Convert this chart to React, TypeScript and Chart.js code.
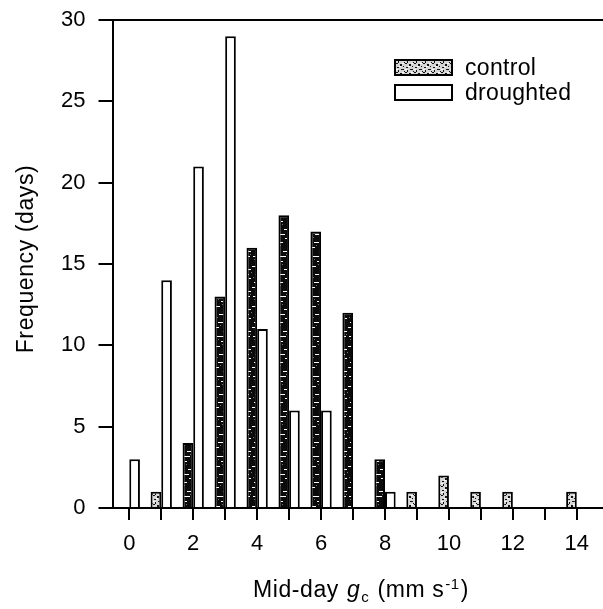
import { useEffect, useRef } from 'react';
import { Chart, registerables } from 'chart.js';

Chart.register(...registerables);

// ---- data ----
const categories = [0, 1, 2, 3, 4, 5, 6, 7, 8, 9, 10, 11, 12, 13, 14];
const controlValues = [0, 1, 4, 13, 16, 18, 17, 12, 3, 1, 2, 1, 1, 0, 1];
const droughtedValues = [3, 14, 21, 29, 11, 6, 6, 0, 1, 0, 0, 0, 0, 0, 0];
const seriesNames = ['control', 'droughted'];
const xTickLabels = ['0', '2', '4', '6', '8', '10', '12', '14'];
const yAxisTitle = 'Frequency (days)';

const FONT = 'Arial, "Liberation Sans", Helvetica, sans-serif';

function makeDarkPattern(ctx: CanvasRenderingContext2D) {
  const c = document.createElement('canvas');
  c.width = 12;
  c.height = 40;
  const g = c.getContext('2d')!;
  g.fillStyle = '#0b0b0b';
  g.fillRect(0, 0, 12, 40);
  g.fillStyle = '#ffffff';
  const dashes = [
    [2, 2, 5, 1], [0, 7, 3, 1], [7, 11, 4, 1], [1, 16, 9, 1], [5, 21, 2, 1],
    [0, 26, 4, 1], [8, 29, 3, 1], [3, 34, 6, 1], [9, 38, 2, 1],
  ];
  dashes.forEach(([x, y, w, h]) => g.fillRect(x, y, w, h));
  g.fillStyle = '#777';
  [[4, 5], [10, 14], [2, 19], [6, 24], [11, 32], [1, 37]].forEach(([x, y]) => g.fillRect(x, y, 1, 1));
  return ctx.createPattern(c, 'repeat')!;
}

function makeLightPattern(ctx: CanvasRenderingContext2D) {
  const c = document.createElement('canvas');
  c.width = 9;
  c.height = 9;
  const g = c.getContext('2d')!;
  g.fillStyle = '#d6d6d6';
  g.fillRect(0, 0, 9, 9);
  g.fillStyle = '#111';
  [[0, 0, 2, 1], [4, 1, 2, 2], [7, 3, 1, 1], [1, 4, 2, 1], [5, 6, 3, 1], [2, 7, 1, 2], [8, 8, 1, 1]].forEach(
    ([x, y, w, h]) => g.fillRect(x, y, w, h)
  );
  g.fillStyle = '#fff';
  [[3, 3, 2, 1], [6, 0, 2, 1], [0, 6, 2, 1]].forEach(([x, y, w, h]) => g.fillRect(x, y, w, h));
  return ctx.createPattern(c, 'repeat')!;
}

export default function App() {
  const ref = useRef<HTMLCanvasElement | null>(null);

  useEffect(() => {
    const canvas = ref.current!;
    const ctx0 = canvas.getContext('2d')!;
    const dark = makeDarkPattern(ctx0);
    const light = makeLightPattern(ctx0);

    const decor = {
      id: 'decor',
      afterDraw(chart: any) {
        const { ctx, chartArea } = chart;
        ctx.save();
        // top frame line
        ctx.strokeStyle = '#000';
        ctx.lineWidth = 2;
        ctx.beginPath();
        ctx.moveTo(chartArea.left, chartArea.top);
        ctx.lineTo(chartArea.right, chartArea.top);
        ctx.stroke();

        // legend
        const lx = 395, bw = 57, bh = 15;
        const rows = [
          { y: 60, fill: light, label: seriesNames[0] },
          { y: 85, fill: '#fff', label: seriesNames[1] },
        ];
        ctx.font = `23px ${FONT}`;
        (ctx as any).letterSpacing = '0.3px';
        ctx.textBaseline = 'middle';
        ctx.textAlign = 'left';
        rows.forEach((r) => {
          ctx.fillStyle = r.fill as any;
          ctx.fillRect(lx, r.y, bw, bh);
          ctx.lineWidth = 2;
          ctx.strokeStyle = '#000';
          ctx.strokeRect(lx, r.y, bw, bh);
          ctx.fillStyle = '#000';
          ctx.fillText(r.label, 465, r.y + bh / 2 + 1);
        });

        // x title with italic g, subscript c, superscript -1
        const segs = [
          { t: 'Mid-day ', f: `23px ${FONT}`, dy: 0 },
          { t: 'g', f: `italic 23px ${FONT}`, dy: 0 },
          { t: 'c', f: `15px ${FONT}`, dy: 5 },
          { t: ' (mm s', f: `23px ${FONT}`, dy: 0 },
          { t: '-1', f: `15px ${FONT}`, dy: -8 },
          { t: ')', f: `23px ${FONT}`, dy: 0 },
        ];
        (ctx as any).letterSpacing = '0.6px';
        let total = 0;
        segs.forEach((s) => {
          ctx.font = s.f;
          total += ctx.measureText(s.t).width + 1;
        });
        let x = 361.5 - total / 2;
        ctx.textBaseline = 'alphabetic';
        segs.forEach((s) => {
          ctx.font = s.f;
          ctx.fillText(s.t, x, 597 + s.dy);
          x += ctx.measureText(s.t).width + 1;
        });

        // y title
        ctx.translate(27, 259);
        ctx.rotate(-Math.PI / 2);
        ctx.font = `23px ${FONT}`;
        (ctx as any).letterSpacing = '0.6px';
        ctx.textAlign = 'center';
        ctx.textBaseline = 'middle';
        ctx.fillText(yAxisTitle, 0, 0);
        ctx.restore();
      },
    };

    const chart = new Chart(canvas, {
      type: 'bar',
      data: {
        datasets: [
          {
            label: seriesNames[0],
            data: categories.map((c, i) => ({ x: c, y: controlValues[i] })),
            backgroundColor: (c: any) => ((c.raw && c.raw.y <= 2) ? light : dark),
            borderColor: '#000',
            borderWidth: 2,
            categoryPercentage: 2 / 3,
            barPercentage: 1,
          },
          {
            label: seriesNames[1],
            data: categories.map((c, i) => ({ x: c, y: droughtedValues[i] })),
            backgroundColor: '#fff',
            borderColor: '#000',
            borderWidth: 2,
            categoryPercentage: 2 / 3,
            barPercentage: 1,
          },
        ],
      } as any,
      options: {
        animation: false,
        responsive: true,
        maintainAspectRatio: false,
        layout: { padding: { top: 20, right: 0, bottom: 0, left: 0 } },
        plugins: { legend: { display: false }, tooltip: { enabled: false } },
        scales: {
          x: {
            type: 'linear',
            min: -0.525,
            max: 14.82,
            offset: false,
            grid: { offset: false, drawOnChartArea: false, drawTicks: true, tickLength: 12, color: '#000', lineWidth: 2 },
            border: { display: true, color: '#000', width: 2 },
            ticks: {
              stepSize: 1,
              includeBounds: false,
              autoSkip: false,
              maxRotation: 0,
              minRotation: 0,
              padding: 11,
              color: '#000',
              font: { family: FONT, size: 22 },
              callback: (v: any) => (xTickLabels.includes(String(v)) ? String(v) : ''),
            },
            afterFit: (s: any) => {
              s.height = 101;
              s.paddingLeft = 0;
              s.paddingRight = 0;
            },
          },
          y: {
            min: 0,
            max: 30,
            grid: { drawOnChartArea: false, drawTicks: true, tickLength: 14, color: '#000', lineWidth: 2 },
            border: { display: true, color: '#000', width: 2 },
            ticks: {
              stepSize: 5,
              padding: 13,
              color: '#000',
              font: { family: FONT, size: 22 },
            },
            afterFit: (s: any) => {
              s.width = 112.5;
              s.paddingTop = 0;
              s.paddingBottom = 0;
            },
          },
        },
      } as any,
      plugins: [decor],
    });
    return () => chart.destroy();
  }, []);

  return (
    <div style={{ position: 'fixed', left: 0, top: 0, width: 603, height: 609, background: '#fff' }}>
      <canvas ref={ref} />
    </div>
  );
}
